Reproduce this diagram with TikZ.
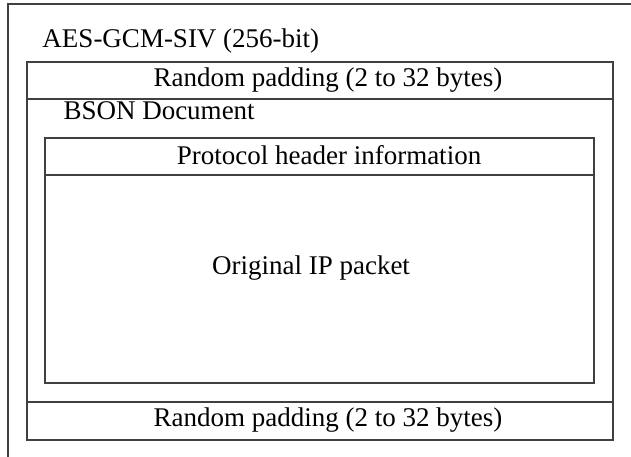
\documentclass[tikz,border=0pt]{standalone}
\usepackage{fontspec}
\setmainfont{Liberation Serif}
\begin{document}
\begin{tikzpicture}[x=0.4pt,y=-0.4pt,
	frame/.style={draw=black!75,line width=0.45pt},
	lbl/.style={inner sep=0pt,font=\fontsize{10.8}{13}\selectfont}]
	\useasboundingbox (0,0) rectangle (631,457);
	
	\draw[frame] (631,4) -- (8,4) -- (8,457);
	\node[lbl,anchor=base west] (cipher) at (42,48) {AES-GCM-SIV (256-bit)};
	
	\draw[frame] (27,62) rectangle (613,99);
	\node[lbl,anchor=base] (padtop) at (328,87) {Random padding (2 to 32 bytes)};
	
	\draw[frame] (27,99) rectangle (613,402);
	\node[lbl,anchor=base west] (bson) at (63,120) {BSON Document};
	
	\draw[frame] (45,138) rectangle (594,175);
	\node[lbl,anchor=base] (header) at (329,165) {Protocol header information};
	
	\draw[frame] (45,175) rectangle (594,383);
	\node[lbl,anchor=base] (packet) at (311,275) {Original IP packet};
	
	\draw[frame] (27,402) rectangle (613,440);
	\node[lbl,anchor=base] (padbot) at (328,426) {Random padding (2 to 32 bytes)};
\end{tikzpicture}
\end{document}
